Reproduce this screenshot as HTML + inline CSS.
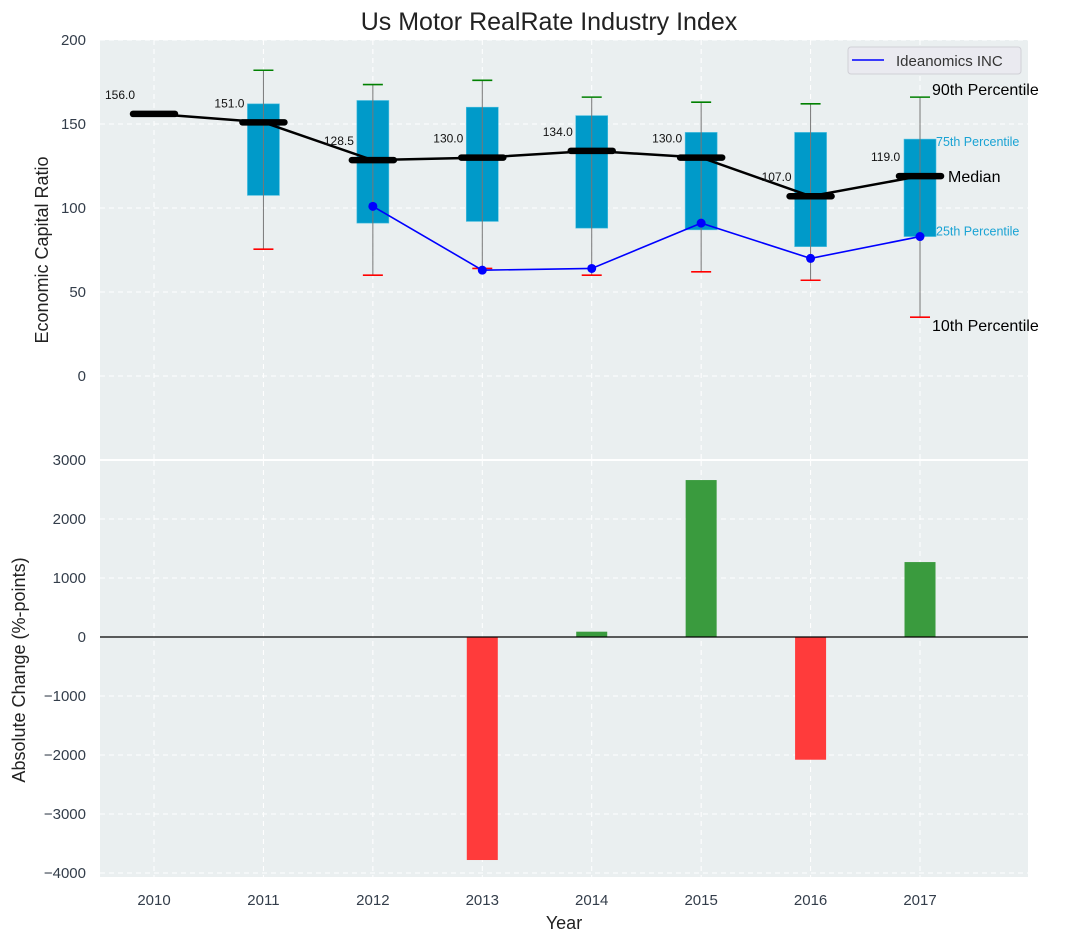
<!DOCTYPE html>
<html><head><meta charset="utf-8"><style>
body{margin:0;background:#fff;}
svg{font-family:"Liberation Sans","DejaVu Sans",sans-serif;}
</style></head><body>
<svg id="c" width="1067" height="942" viewBox="0 0 1067 942"></svg>
<script>
const years=[2010,2011,2012,2013,2014,2015,2016,2017];
const medians=[156,151,128.5,130,134,130,107,119];
const q1=[null,107.5,91,92,88,87,77,83];
const q3=[null,162,164,160,155,145,145,141];
const p10=[null,75.5,60,64,60,62,57,35];
const p90=[null,182,173.5,176,166,163,162,166];
const companyYears=[2012,2013,2014,2015,2016,2017];
const companyVals=[101,63,64,91,70,83];
const changeYears=[2013,2014,2015,2016,2017];
const changeVals=[-3780,90,2660,-2080,1270];
const topTicks=[0,50,100,150,200];
const botTicks=[-4000,-3000,-2000,-1000,0,1000,2000,3000];

const NS="http://www.w3.org/2000/svg";
const svg=document.getElementById('c');
function el(t,a,p){const e=document.createElementNS(NS,t);for(const k in a)e.setAttribute(k,a[k]);(p||svg).appendChild(e);return e;}
const L=100,R=1028;
const x=y=>154+(y-2010)*109.43;
const yT=v=>376-v*1.68;
const yB=v=>637-v*0.059;

let bg=el('rect',{x:L,y:40,width:R-L,height:419,fill:'#eaeff0'});

let bg2=el('rect',{x:L,y:461,width:R-L,height:416,fill:'#eaeff0'});


years.forEach(yr=>{
  el('line',{x1:x(yr),x2:x(yr),y1:40,y2:459,stroke:'#fff','stroke-dasharray':'5,4','stroke-width':1});
  el('line',{x1:x(yr),x2:x(yr),y1:461,y2:877,stroke:'#fff','stroke-dasharray':'5,4','stroke-width':1});
  let t=el('text',{x:x(yr),y:905,'text-anchor':'middle','font-size':15,fill:'#333d4a'});t.textContent=yr;
  
});
topTicks.forEach(v=>{
  el('line',{x1:L,x2:R,y1:yT(v),y2:yT(v),stroke:'#fff','stroke-dasharray':'5,4'});
  let t=el('text',{x:86,y:yT(v)+5,'text-anchor':'end','font-size':15,fill:'#333d4a'});t.textContent=v;
  
});
botTicks.forEach(v=>{
  el('line',{x1:L,x2:R,y1:yB(v),y2:yB(v),stroke:'#fff','stroke-dasharray':'5,4'});
  let t=el('text',{x:86,y:yB(v)+5,'text-anchor':'end','font-size':15,fill:'#333d4a'});t.textContent=(v<0?'\u2212'+(-v):v);
  
});

years.forEach((yr,i)=>{
  if(q1[i]==null)return;
  let b=el('rect',{x:x(yr)-16,y:yT(q3[i]),width:32,height:yT(q1[i])-yT(q3[i]),fill:'#009ac9',stroke:'#4fc0e0','stroke-width':0.6});
  
  let w=el('line',{x1:x(yr),x2:x(yr),y1:yT(p90[i]),y2:yT(p10[i]),stroke:'#777','stroke-width':1});
  
  let c1=el('line',{x1:x(yr)-10,x2:x(yr)+10,y1:yT(p90[i]),y2:yT(p90[i]),stroke:'green','stroke-width':1.6});
  
  let c2=el('line',{x1:x(yr)-10,x2:x(yr)+10,y1:yT(p10[i]),y2:yT(p10[i]),stroke:'red','stroke-width':1.6});
  
});
let mp=el('polyline',{points:years.map((yr,i)=>x(yr)+','+yT(medians[i])).join(' '),fill:'none',stroke:'#000','stroke-width':2.5});

years.forEach((yr,i)=>{
  let m=el('line',{x1:x(yr)-21,x2:x(yr)+21,y1:yT(medians[i]),y2:yT(medians[i]),stroke:'#000','stroke-width':6.5,'stroke-linecap':'round'});
  
  let t=el('text',{x:x(yr)-49,y:yT(medians[i])-15,'font-size':12,fill:'#111'});t.textContent=medians[i].toFixed(1);
  
});
let cl=el('polyline',{points:companyYears.map((yr,i)=>x(yr)+','+yT(companyVals[i])).join(' '),fill:'none',stroke:'#0000ff','stroke-width':1.6});

companyYears.forEach((yr,i)=>{
  let d=el('circle',{cx:x(yr),cy:yT(companyVals[i]),r:4.5,fill:'#0000ff'});
  
});
const li=years.length-1,lx=x(years[li]);
[['90th Percentile',p90[li],16,'#000','p90'],['75th Percentile',q3[li],12.5,'#1aa3d4','p75'],['Median',medians[li],16,'#000','median'],['25th Percentile',q1[li],12.5,'#1aa3d4','p25'],['10th Percentile',p10[li],16,'#000','p10']].forEach(a=>{
  let dy={p90:-2,p75:7,median:6,p25:-1,p10:14}[a[4]];
  let dx={p90:12,p75:16,median:28,p25:16,p10:12}[a[4]];
  let t=el('text',{x:lx+dx,y:yT(a[1])+dy,'font-size':a[2],fill:a[3]});t.textContent=a[0];
  
});
changeYears.forEach((yr,i)=>{
  const v=changeVals[i];
  let b=el('rect',{x:x(yr)-15.5,y:Math.min(yB(v),yB(0)),width:31,height:Math.abs(yB(v)-yB(0)),fill:v>=0?'#3a9b3e':'#ff3b3b'});
  
});
el('line',{x1:L,x2:R,y1:yB(0),y2:yB(0),stroke:'#000','stroke-width':1.2});

let lg=el('g',{});
el('rect',{x:848,y:47,width:173,height:27,rx:3,fill:'#eaeaf0',stroke:'#d0d0d6'},lg);
el('line',{x1:852,x2:884,y1:60,y2:60,stroke:'#0000ff','stroke-width':1.6},lg);
let lt=el('text',{x:896,y:66,'font-size':15,fill:'#333'},lg);lt.textContent='Ideanomics INC';


let ti=el('text',{x:549,y:30,'text-anchor':'middle','font-size':25,fill:'#222'});ti.textContent='Us Motor RealRate Industry Index';

let xl=el('text',{x:564,y:929,'text-anchor':'middle','font-size':18,fill:'#222'});xl.textContent='Year';

let y1=el('text',{x:48,y:250,'text-anchor':'middle','font-size':18,fill:'#222',transform:'rotate(-90 48 250)'});y1.textContent='Economic Capital Ratio';

let y2=el('text',{x:25,y:670,'text-anchor':'middle','font-size':18,fill:'#222',transform:'rotate(-90 25 670)'});y2.textContent='Absolute Change (%-points)';

</script>
</body></html>
